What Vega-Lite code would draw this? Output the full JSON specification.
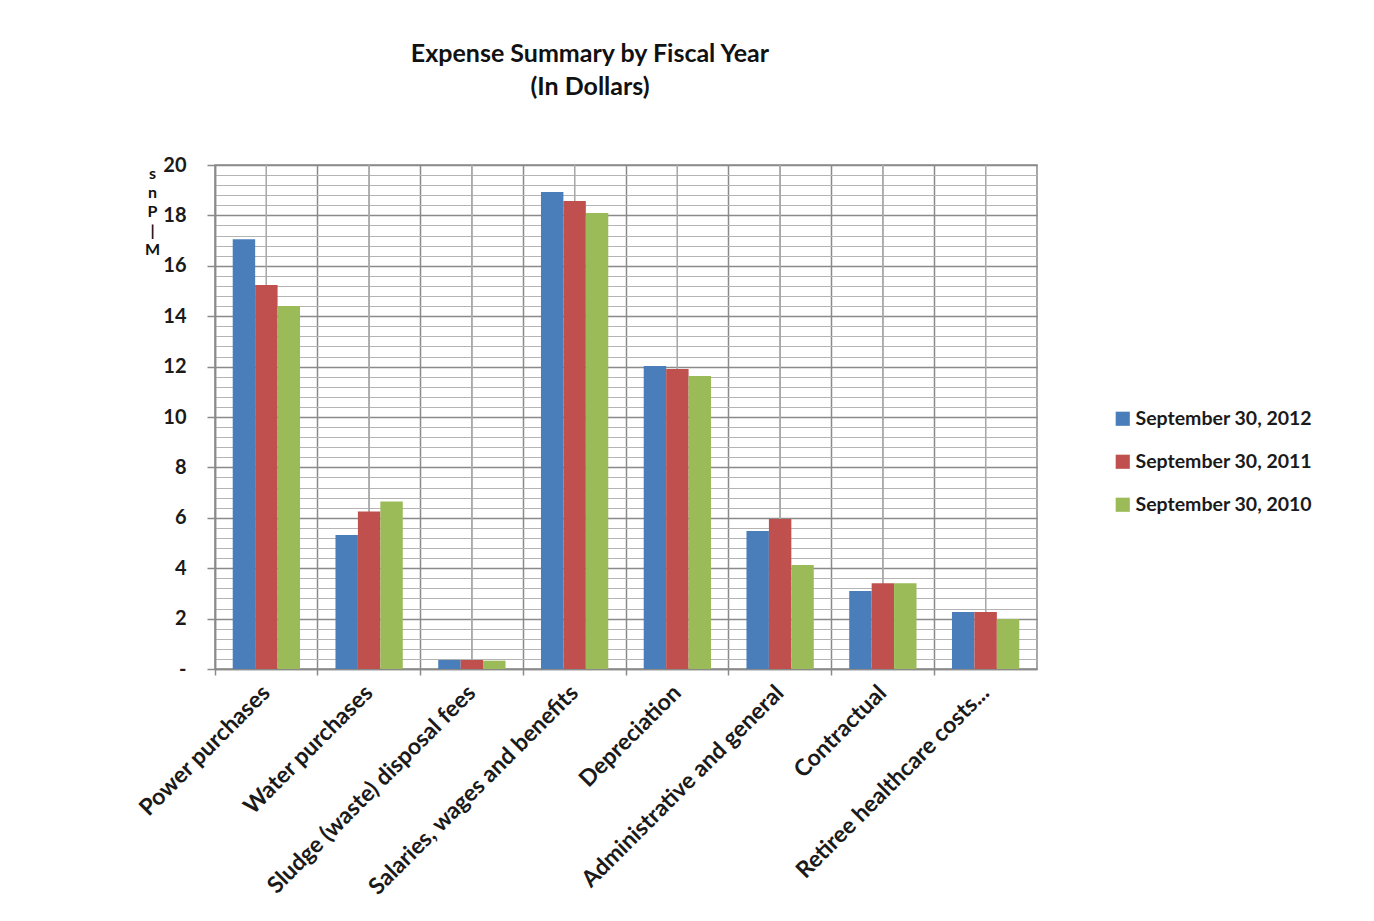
{
  "$schema": "https://vega.github.io/schema/vega-lite/v6.json",
  "width": 822,
  "height": 504,
  "autosize": {"type": "none"},
  "padding": {"left": 215, "top": 165, "right": 337, "bottom": 252},
  "background": "white",
  "config": {
    "font": "Lato",
    "view": {"stroke": "#8a8a8a", "strokeWidth": 1.5}
  },
  "title": {
    "text": ["Expense  Summary by Fiscal Year", "(In Dollars)"],
    "fontSize": 25,
    "fontWeight": "bold",
    "font": "Lato",
    "color": "#111",
    "anchor": "middle",
    "frame": "group",
    "dx": -36,
    "offset": 55,
    "lineHeight": 33
  },
  "data": {
    "values": [
      {"category": "Power purchases", "year": "September 30, 2012", "value": 17.05},
      {"category": "Power purchases", "year": "September 30, 2011", "value": 15.24},
      {"category": "Power purchases", "year": "September 30, 2010", "value": 14.4},
      {"category": "Water purchases", "year": "September 30, 2012", "value": 5.32},
      {"category": "Water purchases", "year": "September 30, 2011", "value": 6.25},
      {"category": "Water purchases", "year": "September 30, 2010", "value": 6.65},
      {"category": "Sludge (waste) disposal fees", "year": "September 30, 2012", "value": 0.36},
      {"category": "Sludge (waste) disposal fees", "year": "September 30, 2011", "value": 0.36},
      {"category": "Sludge (waste) disposal fees", "year": "September 30, 2010", "value": 0.33},
      {"category": "Salaries, wages and benefits", "year": "September 30, 2012", "value": 18.93},
      {"category": "Salaries, wages and benefits", "year": "September 30, 2011", "value": 18.57},
      {"category": "Salaries, wages and benefits", "year": "September 30, 2010", "value": 18.1},
      {"category": "Depreciation", "year": "September 30, 2012", "value": 12.02},
      {"category": "Depreciation", "year": "September 30, 2011", "value": 11.9},
      {"category": "Depreciation", "year": "September 30, 2010", "value": 11.63},
      {"category": "Administrative and general", "year": "September 30, 2012", "value": 5.48},
      {"category": "Administrative and general", "year": "September 30, 2011", "value": 5.95},
      {"category": "Administrative and general", "year": "September 30, 2010", "value": 4.13},
      {"category": "Contractual", "year": "September 30, 2012", "value": 3.1},
      {"category": "Contractual", "year": "September 30, 2011", "value": 3.4},
      {"category": "Contractual", "year": "September 30, 2010", "value": 3.4},
      {"category": "Retiree healthcare costs...", "year": "September 30, 2012", "value": 2.26},
      {"category": "Retiree healthcare costs...", "year": "September 30, 2011", "value": 2.26},
      {"category": "Retiree healthcare costs...", "year": "September 30, 2010", "value": 1.98}
    ]
  },
  "encoding": {
    "x": {
      "field": "category",
      "type": "nominal",
      "sort": null,
      "scale": {"paddingInner": 0, "paddingOuter": 0},
      "axis": {
        "title": null,
        "bandPosition": 0,
        "grid": true,
        "gridColor": "#8a8a8a",
        "gridWidth": 1.5,
        "domainColor": "#8a8a8a",
        "domainWidth": 1.5,
        "tickColor": "#8a8a8a",
        "tickWidth": 1.5,
        "tickSize": 6,
        "labelAngle": -45,
        "labelAlign": "right",
        "labelBaseline": "middle",
        "labelFontSize": 23,
        "labelFontWeight": "bold",
        "labelColor": "#1a1a1a",
        "labelPadding": 14,
        "labelLimit": 500
      }
    }
  },
  "layer": [
    {
      "mark": {"type": "rule", "color": "#a8a8a8", "strokeWidth": 1.2},
      "encoding": {}
    },
    {
      "mark": {"type": "bar"},
      "encoding": {
        "xOffset": {
          "field": "year",
          "type": "nominal",
          "sort": ["September 30, 2012", "September 30, 2011", "September 30, 2010"],
          "scale": {"paddingInner": 0, "paddingOuter": 0.79}
        },
        "y": {
          "field": "value",
          "type": "quantitative",
          "scale": {"domain": [0, 20], "nice": false},
          "axis": {
            "values": [0, 0.4, 0.8, 1.2, 1.6, 2, 2.4, 2.8, 3.2, 3.6, 4, 4.4, 4.8, 5.2, 5.6, 6, 6.4, 6.8, 7.2, 7.6, 8, 8.4, 8.8, 9.2, 9.6, 10, 10.4, 10.8, 11.2, 11.6, 12, 12.4, 12.8, 13.2, 13.6, 14, 14.4, 14.8, 15.2, 15.6, 16, 16.4, 16.8, 17.2, 17.6, 18, 18.4, 18.8, 19.2, 19.6, 20],
            "grid": true,
            "gridColor": {"condition": {"test": "abs(datum.value / 2 - round(datum.value / 2)) < 0.001", "value": "#8a8a8a"}, "value": "#b4b4b4"},
            "gridWidth": {"condition": {"test": "abs(datum.value / 2 - round(datum.value / 2)) < 0.001", "value": 1.5}, "value": 1.2},
            "tickOpacity": {"condition": {"test": "abs(datum.value / 2 - round(datum.value / 2)) < 0.001", "value": 1}, "value": 0},
            "tickColor": "#8a8a8a",
            "tickWidth": 1.5,
            "tickSize": 8,
            "domainColor": "#8a8a8a",
            "domainWidth": 1.5,
            "labelExpr": "datum.value == 0 ? '-' : (abs(datum.value / 2 - round(datum.value / 2)) < 0.001 ? format(datum.value, 'd') : '')",
            "labelFontSize": 20,
            "labelFontWeight": "bold",
            "labelColor": "#1a1a1a",
            "labelPadding": 21,
            "labelOverlap": false,
            "title": ["s", "n", "P", "|", "M"],
            "titleAngle": 0,
            "titleAlign": "center",
            "titleBaseline": "top",
            "titleX": -63,
            "titleY": 0,
            "titleFontSize": 16,
            "titleFontWeight": "bold",
            "titleLineHeight": 19,
            "titleColor": "#111"
          }
        },
        "color": {
          "field": "year",
          "type": "nominal",
          "scale": {
            "domain": ["September 30, 2012", "September 30, 2011", "September 30, 2010"],
            "range": ["#4A7EBB", "#C0504D", "#9BBB59"]
          },
          "legend": {
            "title": null,
            "orient": "none",
            "legendX": 898,
            "legendY": 244,
            "symbolType": "square",
            "symbolSize": 200,
            "symbolStrokeWidth": 0,
            "labelFontSize": 19.5,
            "labelFontWeight": "bold",
            "labelColor": "#1a1a1a",
            "labelOffset": 3,
            "rowPadding": 22,
            "labelLimit": 300
          }
        }
      }
    }
  ]
}
